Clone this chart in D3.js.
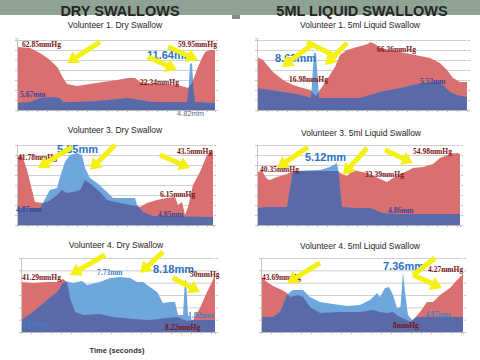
<!DOCTYPE html>
<html><head><meta charset="utf-8">
<script src="https://cdn.jsdelivr.net/npm/d3@7"></script>
<style>body{margin:0;background:#fff}svg{display:block}</style>
</head><body><svg id="c" width="480" height="360"></svg>
<script>
// ---------- DATA (time in s, pressure / diameter on each panel's hidden scale) ----------
const v1DryTime = [0,1.3,2.3,3.3,4.1,4.6,5.0,6.0,7.3,8.6,10.0,11.1,11.8,12.3,13.6,15.3,16.0,16.8,17.1,17.5,17.8,18.1,18.5,18.8,19.3,19.8];
const v1DryPressure = [63,62,57,50,42,32,26,24,26,28,30,32,32,28,26,25,25,23,22,27,35,43,52,58,60,60];
const v1DryDiamTime = [0,1.3,2.3,3.6,4.3,4.6,6.0,8.0,10.0,11.1,12.3,13.6,16.0,17.0,17.15,17.3,17.5,17.65,17.8,18.3,19.8];
const v1DryDiameter = [7,8,12,13,12,8,8,9,11,12,10,8,8,8,20,46,47,20,8,8,7];

const v1LiqTime = [0,0.6,1.6,2.6,3.6,4.6,5.3,5.9,6.5,7.1,7.8,8.3,9.0,10.0,11.1,11.3,11.8,12.3,14.3,16.3,17.3,18.3,19.0,19.6,20.3,21.0];
const v1LiqPressure = [53,50,38,30,25,22,20,14,23,32,43,55,60,63,66,68,66,62,58,54,52,47,40,32,28,28];
const v1LiqDiamTime = [0,1.3,2.6,4.0,5.1,5.4,5.7,5.9,6.2,7.3,9.3,10.3,11.3,12.3,14.3,15.6,16.6,18.0,18.6,19.3,20.0,21.0];
const v1LiqDiameter = [22,20,18,16,13,12,57,57,12,12,12,12,15,18,22,25,27,28,25,18,15,13];

const v3DryTime = [0,0.5,1.0,1.5,1.8,2.6,3.2,4.0,4.5,5.0,5.6,6.3,6.8,7.5,8.3,9.0,10.3,11.3,12.0,12.3,13.0,14.0,15.0,15.8,16.1,16.5,16.8,17.1,17.6,18.3,19.0,19.6];
const v3DryPressure = [68,70,55,35,23,22,24,30,35,32,33,35,45,40,33,25,22,20,19,18,22,25,27,28,20,23,10,18,40,53,70,75];
const v3DryDiamTime = [0,2.3,2.6,3.0,3.3,4.0,4.3,4.8,5.3,6.0,6.5,6.8,7.3,8.0,9.0,9.6,11.8,12.0,12.6,13.6,19.6];
const v3DryDiameter = [17,17,22,30,35,37,48,63,70,72,70,57,47,42,33,27,27,20,13,9,8];

const v3LiqTime = [0,0.5,1.0,1.3,2.0,3.0,3.6,6.3,8.1,8.3,9.0,9.6,11.0,12.3,13.0,13.6,14.6,15.6,16.6,17.6,18.3,19.3,20.0,20.3];
const v3LiqPressure = [53,54,46,45,48,51,54,54,54,52,49,55,52,46,43,47,52,57,58,61,67,71,72,71];
const v3LiqDiamTime = [0,1.0,3.0,3.3,3.6,6.3,7.3,8.0,8.15,8.5,10.0,11.3,12.6,14.0,20.3];
const v3LiqDiameter = [17,18,18,37,54,55,58,62,53,18,17,17,12,11,11];

const v4DryTime = [0,1.2,2.6,3.6,4.2,4.6,4.9,5.4,6.2,7.9,9.2,11.2,12.9,14.6,15.6,16.1,16.6,17.2,17.9,18.6,19.1,19.4];
const v4DryPressure = [40.5,39.7,40.5,40.5,43,40.5,27.6,16.2,13.8,14.6,12.2,10.5,9.7,11.4,12.2,10.5,8.9,9.7,19.5,32.4,40.5,47];
const v4DryDiamTime = [0,1.2,2.6,3.6,4.2,4.6,5.2,6.1,6.6,7.9,8.9,9.9,10.9,11.6,12.2,12.9,13.6,14.2,14.9,15.4,15.7,16.2,16.4,16.5,16.7,17.1,19.4];
const v4DryDiameter = [9.7,16.2,26,32.4,39.7,41,39.7,41.4,38.1,40.5,43.8,44.6,43.8,40.5,40.5,36.5,32.4,23.5,24.3,24.3,13.8,13.8,42,42,13.8,9.7,9.7];

const v4LiqTime = [0,0.6,1.2,2.1,2.6,2.9,3.7,4.2,4.9,5.9,7.9,9.9,11.2,11.9,12.6,13.2,13.9,14.6,14.9,15.2,15.9,16.6,17.2,17.9,18.9,19.6,20.2];
const v4LiqPressure = [44.6,40.5,37.3,34.1,31.6,28.4,30,28.4,20.3,15.4,16.2,16.2,17.8,16.2,15.4,16.2,12.2,9.7,8.1,9.7,16.2,24.3,24.3,30,35.7,42.2,47];
const v4LiqDiamTime = [0,1.2,1.9,2.4,2.6,2.9,3.2,4.2,4.9,5.9,7.2,8.6,9.9,10.9,11.6,11.9,12.4,12.8,13.2,13.6,13.95,14.2,14.4,14.7,15.1,15.6,20.2];
const v4LiqDiameter = [12.2,12.2,16.2,26,30,32.4,34.1,34.1,28.4,24.3,22.7,21.1,21.9,26,31.6,28.4,35.7,36.5,30,19.5,20.3,48.7,32.4,13.8,9.7,12.2,12.2];

const sectionTitles = ["DRY SWALLOWS", "5ML LIQUID SWALLOWS"];
const panelTitles = ["Volunteer 1. Dry Swallow","Volunteer 1. 5ml Liquid Swallow","Volunteer 3. Dry Swallow","Volunteer 3. 5ml Liquid Swallow","Volunteer 4. Dry Swallow","Volunteer 4. 5ml Liquid Swallow"];
const xAxisTitle = "Time (seconds)";

// annotation labels: [text, time, value, kind]
const labels1 = [["62.85mmHg",0.5,63,"p"],["59.95mmHg",16.1,63,"p"],["22.34mmHg",12.3,25,"p"],["5.67mm",0.3,13,"d"],["4.82mm",16.0,-6,"g"],["11.64mm",13.0,51,"big"]];
const labels2 = [["8.63mm",1.8,48,"big"],["16.98mmHg",3.2,28,"p"],["66.36mmHg",12.0,58,"p"],["5.53mm",16.3,26,"d"]];
const labels3 = [["41.78mmHg",0.1,65,"p"],["5.85mm",4.0,72,"big"],["43.5mmHg",16.0,71,"p"],["6.15mmHg",14.3,28,"p"],["4.87mm",-0.1,13,"d"],["4.85mm",14.1,8,"d"]];
const labels4 = [["40.35mmHg",0.3,53,"p"],["5.12mm",4.8,64,"big"],["33.39mmHg",10.8,48,"p"],["54.98mmHg",15.6,71,"p"],["4.86mm",13.1,12,"d"]];
const labels5 = [["41.29mmHg",0.1,42.2,"p"],["7.73mm",7.6,46.2,"l"],["8.18mm",13.2,47.8,"big"],["50mmHg",16.9,44.6,"p"],["5.87mm",0.1,4.1,"l"],["1.82mm",16.7,11.4,"l"],["8.22mmHg",14.4,1.6,"p"]];
const labels6 = [["43.69mmHg",0.1,42.2,"p"],["7.36mm",12.2,50.3,"big"],["4.27mmHg",16.7,48.7,"p"],["4.87mm",16.4,12.2,"l"],["8mmHg",13.2,3.2,"p"]];

// arrows: [t1,v1,t2,v2,head]
const arrows1 = [[8.3,68,5.0,47,1],[13.1,53,16.0,40,1],[15.1,63,18.1,50,1]];
const arrows2 = [[5.6,66,2.5,43,1],[5.0,68,8.0,53,0],[9.0,67,6.8,45,1]];
const arrows3 = [[5.5,78,2.1,57,1],[9.8,80,7.3,55,1],[14.3,70,17.3,57,1]];
const arrows4 = [[5.1,78,2.0,57,1],[11.0,77,8.6,50,1],[12.8,75,15.6,62,1]];
const arrows5 = [[8.4,62.4,4.9,46.2,1],[14.2,64.9,11.9,47.8,1],[15.2,43.8,17.9,32.4,1]];
const arrows6 = [[5.9,56,2.6,39.7,1],[17.4,60,15.2,46.2,0],[15.2,46.2,18.1,35.7,1]];

// ---------- LAYOUT ----------
const panels = [
  {title:panelTitles[0], tx:115, ty:28, box:[17,215,38,110], xMax:19.8, yMax:72, grid:10, pt:v1DryTime, p:v1DryPressure, dt:v1DryDiamTime, d:v1DryDiameter, labels:labels1, arrows:arrows1},
  {title:panelTitles[1], tx:360, ty:28, box:[257,467,38,110], xMax:21.0, yMax:72, grid:10, pt:v1LiqTime, p:v1LiqPressure, dt:v1LiqDiamTime, d:v1LiqDiameter, labels:labels2, arrows:arrows2},
  {title:panelTitles[2], tx:115, ty:133, box:[17,213,145,225], xMax:19.6, yMax:80, grid:10, pt:v3DryTime, p:v3DryPressure, dt:v3DryDiamTime, d:v3DryDiameter, labels:labels3, arrows:arrows3},
  {title:panelTitles[3], tx:361, ty:136, box:[257,460,145,225], xMax:20.3, yMax:80, grid:10, pt:v3LiqTime, p:v3LiqPressure, dt:v3LiqDiamTime, d:v3LiqDiameter, labels:labels4, arrows:arrows4},
  {title:panelTitles[4], tx:116, ty:248, box:[21,215,258,332], xMax:19.4, yMax:60, grid:10, pt:v4DryTime, p:v4DryPressure, dt:v4DryDiamTime, d:v4DryDiameter, labels:labels5, arrows:arrows5},
  {title:panelTitles[5], tx:360, ty:249, box:[261,463,258,332], xMax:20.2, yMax:60, grid:10, pt:v4LiqTime, p:v4LiqPressure, dt:v4LiqDiamTime, d:v4LiqDiameter, labels:labels6, arrows:arrows6}
];

const RED = "#d96f6f", LIGHT = "#6ea7dd", DARK = "#5a69a8", YELLOW = "#f4f012";
const svg = d3.select("#c");
svg.append("rect").attr("width",480).attr("height",360).attr("fill","#fff");
svg.append("rect").attr("x",0).attr("y",0).attr("width",480).attr("height",15).attr("fill","#8ea394");
svg.append("rect").attr("x",232).attr("y",15).attr("width",8).attr("height",4).attr("fill","#8a8a8a");
[[120,sectionTitles[0]],[362,sectionTitles[1]]].forEach(([x,t])=>{
  svg.append("text").attr("x",x).attr("y",15.5).attr("text-anchor","middle")
    .attr("font-family","Liberation Sans, Arial, sans-serif").attr("font-weight","bold")
    .attr("font-size",14.5).attr("fill","#262626").text(t);
});
svg.append("text").attr("x",117).attr("y",353).attr("text-anchor","middle")
  .attr("font-family","Liberation Sans, Arial, sans-serif").attr("font-weight","bold")
  .attr("font-size",7.5).attr("fill","#333").text(xAxisTitle);

const labelStyle = {
  p:{font:"Liberation Serif, serif", size:7.5, weight:"bold", fill:"#7a1414"},
  d:{font:"Liberation Serif, serif", size:7.5, weight:"bold", fill:"#34489a"},
  l:{font:"Liberation Serif, serif", size:7.5, weight:"bold", fill:"#3f7fc6"},
  g:{font:"Liberation Sans, sans-serif", size:7.5, weight:"normal", fill:"#5a6784"},
  big:{font:"Liberation Sans, Arial, sans-serif", size:11, weight:"bold", fill:"#2c72c4"}
};

function arrow(g, x1,y1,x2,y2, head){
  const dx=x2-x1, dy=y2-y1, L=Math.hypot(dx,dy), ux=dx/L, uy=dy/L;
  const hl = head?11:0, hw=7;
  const bx=x2-ux*hl, by=y2-uy*hl;
  g.append("line").attr("x1",x1).attr("y1",y1).attr("x2",head?bx+ux*1:x2).attr("y2",head?by+uy*1:y2)
    .attr("stroke",YELLOW).attr("stroke-width",5);
  if(head){
    g.append("path").attr("d",`M${x2},${y2}L${bx-uy*hw},${by+ux*hw}L${bx+uy*hw},${by-ux*hw}Z`).attr("fill",YELLOW);
  }
}

panels.forEach((P,i)=>{
  const [L,R,T,B] = P.box;
  const x = d3.scaleLinear().domain([0,P.xMax]).range([L,R]);
  const y = d3.scaleLinear().domain([0,P.yMax]).range([B,T]);
  const g = svg.append("g");
  g.append("text").attr("x",P.tx).attr("y",P.ty).attr("text-anchor","middle")
    .attr("font-family","Liberation Sans, Arial, sans-serif").attr("font-size",8.5).attr("fill","#1e1e1e").text(P.title);
  const ticks = d3.range(P.grid, P.yMax+1e-6, P.grid);
  const grid = g.append("g").attr("transform",`translate(${L},0)`)
    .call(d3.axisLeft(y).tickValues(ticks).tickSize(-(R-L)).tickFormat(""));
  grid.selectAll(".tick line").attr("stroke","#c4c4c4").attr("stroke-width",0.8);
  grid.select(".domain").remove();
  const pData = P.pt.map((t,k)=>[t,P.p[k]]);
  const dData = P.dt.map((t,k)=>[t,P.d[k]]);
  const area = d3.area().x(d=>x(d[0])).y0(B).y1(d=>y(d[1]));
  g.append("path").attr("d",area(pData)).attr("fill",RED);
  g.append("path").attr("d",area(dData)).attr("fill",LIGHT);
  const cid = "clipP"+i;
  g.append("clipPath").attr("id",cid).append("path").attr("d",area(pData));
  g.append("path").attr("d",area(dData)).attr("fill",DARK).attr("clip-path",`url(#${cid})`);
  // axes
  const ax = g.append("g").attr("transform",`translate(0,${B})`)
    .call(d3.axisBottom(x).ticks(20).tickSize(2).tickFormat(""));
  ax.selectAll("line,path").attr("stroke","#b8b8b8");
  const ly = g.append("g").attr("transform",`translate(${L},0)`)
    .call(d3.axisLeft(y).tickValues([0,...ticks]).tickSize(2).tickFormat(""));
  ly.selectAll("line,path").attr("stroke","#c4c4c4");
  const ry = g.append("g").attr("transform",`translate(${R+1},0)`)
    .call(d3.axisRight(y).tickValues([0,...ticks]).tickSize(2).tickFormat(""));
  ry.select(".domain").remove();
  ry.selectAll("line").attr("stroke","#c4c4c4");
  // labels
  P.labels.forEach(([txt,t,v,k])=>{
    const s = labelStyle[k];
    g.append("text").attr("x",x(t)).attr("y",y(v)).attr("font-family",s.font).attr("font-size",s.size)
      .attr("font-weight",s.weight).attr("fill",s.fill).text(txt);
  });
  // arrows
  P.arrows.forEach(([t1,v1,t2,v2,h])=>arrow(g,x(t1),y(v1),x(t2),y(v2),h));
});
</script></body></html>
